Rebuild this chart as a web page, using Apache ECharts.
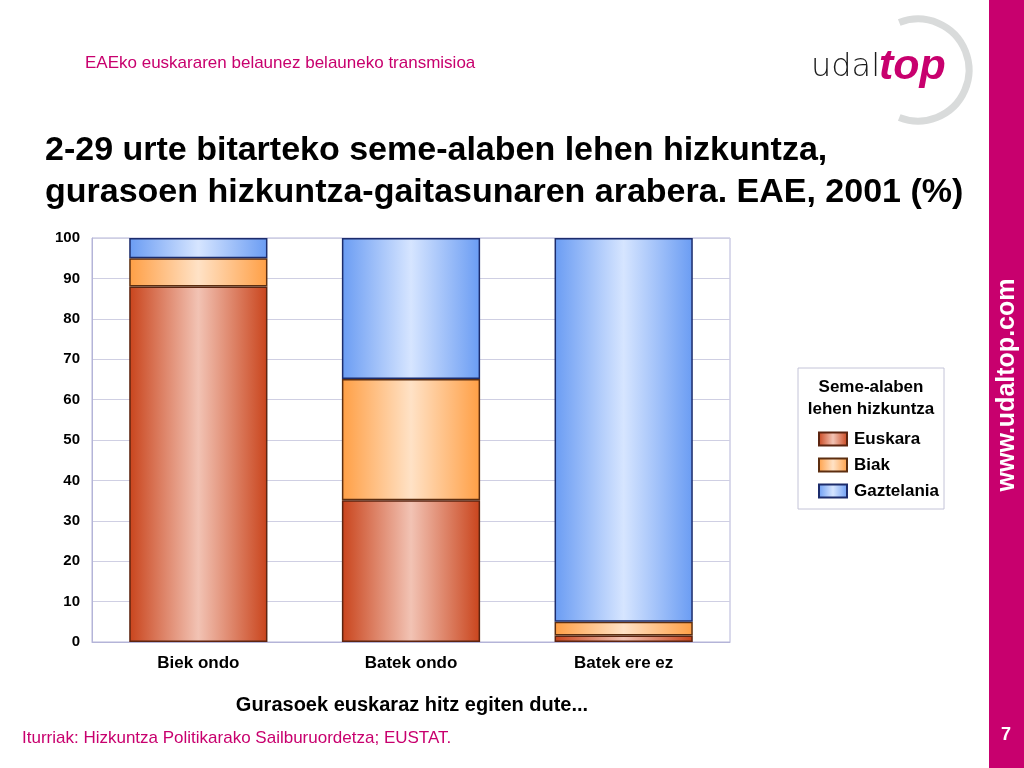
<!DOCTYPE html>
<html>
<head>
<meta charset="utf-8">
<script src="https://cdn.jsdelivr.net/npm/echarts@6/dist/echarts.min.js"></script>
<style>
html,body{margin:0;padding:0;background:#fff;}
#c{width:1024px;height:768px;}
</style>
</head>
<body>
<div id="c"></div>
<script>
// ---- data ----
var categories = ['Biek ondo', 'Batek ondo', 'Batek ere ez'];
var seriesNames = ['Euskara', 'Biak', 'Gaztelania'];
var euskara = [88.0, 35.1, 1.6];
var biak = [7.0, 30.0, 3.4];
var gaztelania = [5.0, 34.9, 95.0];
var yMin = 0, yMax = 100, yStep = 10;

var headerText = 'EAEko euskararen belaunez belauneko transmisioa';
var titleText = '2-29 urte bitarteko seme-alaben lehen hizkuntza,\ngurasoen hizkuntza-gaitasunaren arabera. EAE, 2001 (%)';
var xAxisTitle = 'Gurasoek euskaraz hitz egiten dute...';
var legendTitle = 'Seme-alaben\nlehen hizkuntza';
var sourceText = 'Iturriak: Hizkuntza Politikarako Sailburuordetza; EUSTAT.';
var siteText = 'www.udaltop.com';
var pageNum = '7';

// ---- styles ----
var MAG = '#c8006e';
var FONT = '"Liberation Sans", Arial, sans-serif';
function grad(edge, mid) {
  return new echarts.graphic.LinearGradient(0, 0, 1, 0, [
    {offset: 0, color: edge}, {offset: 0.5, color: mid}, {offset: 1, color: edge}
  ]);
}
var fills = [grad('#c9441c', '#f2c3b4'), grad('#ff9f45', '#ffe2c6'), grad('#6a9cf3', '#d6e5ff')];
var borders = ['#5c2410', '#5c2e10', '#1c2c6c'];
var values = [euskara, biak, gaztelania];

var chart = echarts.init(document.getElementById('c'), null, {renderer: 'canvas'});
var series = seriesNames.map(function (n, i) {
  return {
    name: n, type: 'bar', stack: 'total', data: values[i], barWidth: '65%',
    itemStyle: {color: fills[i], borderColor: borders[i], borderWidth: 1.5},
    emphasis: {disabled: true}
  };
});

chart.setOption({
  animation: false,
  backgroundColor: '#fff',
  textStyle: {fontFamily: FONT},
  grid: {left: 92, right: 294, top: 238, bottom: 126, show: true, borderColor: '#b4b4d8', borderWidth: 1},
  xAxis: {
    type: 'category', data: categories,
    axisLine: {show: true, lineStyle: {color: '#b4b4d8'}},
    axisTick: {show: false},
    axisLabel: {color: '#000', fontWeight: 'bold', fontSize: 17, margin: 13, fontFamily: FONT}
  },
  yAxis: {
    type: 'value', min: yMin, max: yMax, interval: yStep,
    axisLine: {show: true, lineStyle: {color: '#b4b4d8'}},
    axisTick: {show: false},
    splitLine: {lineStyle: {color: '#cfcfe3'}},
    axisLabel: {color: '#000', fontWeight: 'bold', fontSize: 15, margin: 12, fontFamily: FONT}
  },
  legend: {
    orient: 'vertical', left: 818, top: 429, padding: 0, itemWidth: 28, itemHeight: 13, itemGap: 6,
    icon: 'rect', data: seriesNames, selectedMode: false,
    textStyle: {color: '#000', fontWeight: 'bold', fontSize: 17, lineHeight: 20, fontFamily: FONT, padding: [0, 0, 0, 2]}
  },
  series: series,
  graphic: [
    {type: 'rect', shape: {x: 989, y: 0, width: 35, height: 768}, style: {fill: MAG}, silent: true},
    {type: 'text', x: 1007, y: 385, rotation: Math.PI / 2, style: {
      text: siteText, fill: '#fff', font: 'bold 25px ' + FONT, textAlign: 'center', textVerticalAlign: 'middle'}},
    {type: 'text', x: 1006, y: 735, style: {
      text: pageNum, fill: '#fff', font: 'bold 18px ' + FONT, textAlign: 'center', textVerticalAlign: 'middle'}},
    {type: 'text', x: 85, y: 63, style: {
      text: headerText, fill: MAG, font: '17px ' + FONT, textAlign: 'left', textVerticalAlign: 'middle'}},
    {type: 'text', x: 22, y: 738, style: {
      text: sourceText, fill: MAG, font: '17px ' + FONT, textAlign: 'left', textVerticalAlign: 'middle'}},
    {type: 'text', x: 412, y: 705, style: {
      text: xAxisTitle, fill: '#000', font: 'bold 20px ' + FONT, textAlign: 'center', textVerticalAlign: 'middle'}},
    // title
    {type: 'text', x: 45, y: 130, style: {
      text: titleText, fill: '#000', font: 'bold 34px ' + FONT, textAlign: 'left', textVerticalAlign: 'top', lineHeight: 42}},
    // legend box
    {type: 'rect', shape: {x: 798, y: 368, width: 146, height: 141}, style: {fill: 'none', stroke: '#c4c4d8', lineWidth: 1}, silent: true},
    {type: 'text', x: 871, y: 398, style: {
      text: legendTitle, fill: '#000', font: 'bold 17px ' + FONT, textAlign: 'center', textVerticalAlign: 'middle', lineHeight: 22}},
    // logo
    {type: 'arc', shape: {cx: 918, cy: 70, r: 51, startAngle: -Math.PI * 0.62, endAngle: Math.PI * 0.62, clockwise: true},
      style: {stroke: '#d9dbdb', lineWidth: 7, fill: null}, silent: true},
    {type: 'text', x: 811, y: 68, style: {
      text: 'udal', fill: '#1a1a1a', font: '300 32px "DejaVu Sans", sans-serif', textAlign: 'left', textVerticalAlign: 'middle'}},
    {type: 'text', x: 879, y: 67, style: {
      text: 'top', fill: MAG, font: 'italic 900 43px ' + FONT, textAlign: 'left', textVerticalAlign: 'middle'}}
  ]
});
</script>
</body>
</html>
